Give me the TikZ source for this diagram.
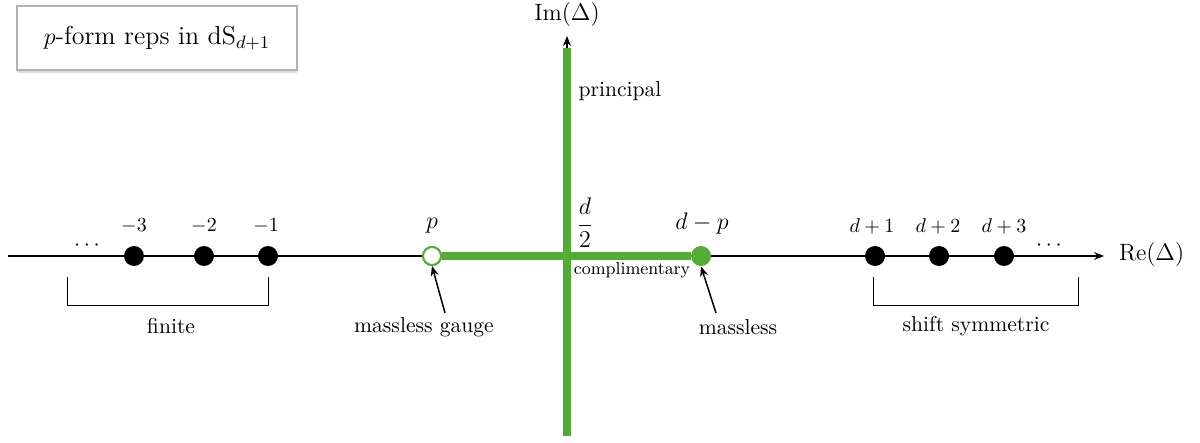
\documentclass[tikz,border=0pt]{standalone}
\usetikzlibrary{arrows.meta,shadows}
\definecolor{grn}{RGB}{84,172,52}
\begin{document}
\begin{tikzpicture}[x=0.5pt,y=-0.5pt,
  bdot/.style={circle,fill=black,inner sep=0pt,minimum size=10pt},
  gdot/.style={circle,fill=grn,inner sep=0pt,minimum size=10pt},
  odot/.style={circle,draw=grn,fill=white,line width=1pt,inner sep=0pt,minimum size=9pt},
  lab/.style={font=\fontsize{10.8}{13}\selectfont},
  axis/.style={line width=0.75pt,-{Stealth[length=5pt,width=4pt]}},
  gline/.style={grn,line width=3.8pt},
  brack/.style={line width=0.5pt},
  ptr/.style={line width=0.75pt,-{Stealth[length=5pt,width=4pt]}}]
\useasboundingbox (0,0) rectangle (1200,443);
% axes
\coordinate (xs) at (8,256);
\coordinate (xe) at (1104,256);
\coordinate (ys) at (567,436);
\coordinate (ye) at (567,36);
\draw[axis] (xs) -- (xe);
\draw[axis] (ys) -- (ye);
\node[font=\fontsize{11.8}{14}\selectfont,anchor=west] (re) at (1112,255) {Re$(\Delta)$};
\node[font=\fontsize{11.8}{14}\selectfont] (im) at (567,15) {Im$(\Delta)$};
% green lines
\coordinate (gt) at (567,48);
\draw[gline] (ys) -- (gt);
\node[odot] (p) at (432,256) {};
\node[gdot] (dp) at (701,256) {};
\draw[gline] (p) -- (dp);
\node[odot] at (432,256) {};
% black dots
\node[bdot] (m3) at (134,256) {};
\node[bdot] (m2) at (204,256) {};
\node[bdot] (m1) at (268,256) {};
\node[bdot] (d1) at (875,256) {};
\node[bdot] (d2) at (939,256) {};
\node[bdot] (d3) at (1004,256) {};
% labels above
\node[font=\fontsize{10}{12}\selectfont] at (134,226) {$-3$};
\node[font=\fontsize{10}{12}\selectfont] at (204,226) {$-2$};
\node[font=\fontsize{10}{12}\selectfont] at (266,226) {$-1$};
\node[font=\fontsize{10.3}{12}\selectfont] at (872,226) {$d+1$};
\node[font=\fontsize{10.3}{12}\selectfont] at (938,226) {$d+2$};
\node[font=\fontsize{10.3}{12}\selectfont] at (1004,226) {$d+3$};
\node[font=\fontsize{10.5}{12}\selectfont] (ldots) at (87,246) {$\cdots$};
\node[font=\fontsize{10.5}{12}\selectfont] (rdots) at (1049,246) {$\cdots$};
\node[font=\fontsize{13}{15}\selectfont] (pl) at (432,226) {$p$};
\node[font=\fontsize{13}{15}\selectfont] (dpl) at (702,224) {$d-p$};
\node[font=\fontsize{11.5}{13}\selectfont] (half) at (585,223) {$\displaystyle\frac{d}{2}$};
\node[font=\fontsize{8.7}{10}\selectfont] (comp) at (632,270) {complimentary};
\node[lab] (princ) at (620,91) {principal};
% brackets
\coordinate (b1a) at (67,277); \coordinate (b1b) at (67,306);
\coordinate (b1c) at (268,306); \coordinate (b1d) at (268,277);
\draw[brack] (b1a) -- (b1b) -- (b1c) -- (b1d);
\node[lab] (fin) at (171,326) {finite};
\coordinate (b2a) at (873,277); \coordinate (b2b) at (873,306);
\coordinate (b2c) at (1078,306); \coordinate (b2d) at (1078,277);
\draw[brack] (b2a) -- (b2b) -- (b2c) -- (b2d);
\node[lab] (shift) at (976,326) {shift symmetric};
% pointers
\node[lab] (mg) at (424,327) {massless gauge};
\node[lab] (ml) at (738,327) {massless};
\coordinate (mgs) at (445,313);
\coordinate (mls) at (716,313);
\draw[ptr] (mgs) -- (p.south);
\draw[ptr] (mls) -- (dp.south);
% title box
\node[draw=black!30,fill=white,line width=0.8pt,minimum width=140pt,minimum height=32pt,
  drop shadow={shadow xshift=0pt,shadow yshift=-1.5pt,opacity=0.25},
  font=\fontsize{13}{15}\selectfont] (title) at (157,38) {$p$-form reps in dS$_{d+1}$};
\end{tikzpicture}
\end{document}
